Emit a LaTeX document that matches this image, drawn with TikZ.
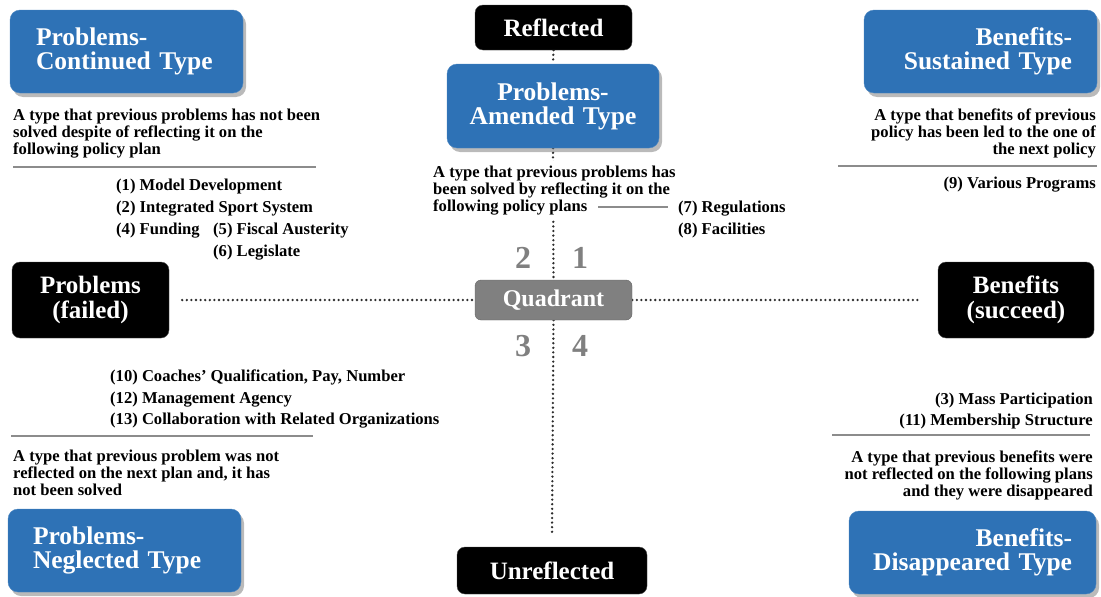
\documentclass[tikz,border=0pt]{standalone}
\usepackage{fontspec}
\setmainfont{Liberation Serif}
\usetikzlibrary{shadows,backgrounds}
\definecolor{boxblue}{RGB}{46,114,182}
\definecolor{qgray}{RGB}{128,128,128}
\definecolor{dotcol}{RGB}{45,45,45}
\definecolor{sepgray}{RGB}{140,140,140}
\tikzset{
  bluebox/.style={fill=boxblue, draw=boxblue!85!white, rounded corners=10pt, text=white,
    font=\bfseries\fontsize{25.5}{24}\selectfont, minimum height=83pt, inner ysep=0pt,
    drop shadow={shadow xshift=3pt, shadow yshift=-4pt, opacity=0.45, fill=black!60}},
  blackbox/.style={fill=black, draw=black!70, rounded corners=8pt, text=white,
    font=\bfseries\fontsize{25}{25}\selectfont, align=center, inner sep=0pt},
  quadbox/.style={fill=qgray, draw=qgray!80!black, rounded corners=6pt, text=white,
    font=\bfseries\fontsize{24}{24}\selectfont, inner sep=0pt, minimum width=157pt, minimum height=40pt},
  desc/.style={font=\bfseries\fontsize{16.6}{17}\selectfont, inner sep=0pt},
  listtxt/.style={font=\bfseries\fontsize{16.6}{22}\selectfont, inner sep=0pt},
  digit/.style={text=qgray, font=\bfseries\fontsize{32}{32}\selectfont, inner sep=0pt},
  sepline/.style={draw=sepgray, line width=1.4pt},
  dotline/.style={draw=dotcol, line width=2.6pt, line cap=round, dash pattern=on 0pt off 4.6pt}
}
\begin{document}
\begin{tikzpicture}[x=1pt,y=-1pt]
\useasboundingbox (0,0) rectangle (1101,597);

% blue type boxes
\node[bluebox, align=left, inner xsep=26pt, text width=181pt] (cont) at (126.5,51.5) {Problems-\\Continued Type};
\node[bluebox, align=center, inner xsep=8pt, text width=196pt, minimum height=84pt] (amend) at (553,106) {Problems-\\Amended Type};
\node[bluebox, align=right, inner xsep=25pt, text width=183pt] (sust) at (980.5,51.5) {Benefits-\\Sustained Type};
\node[bluebox, align=left, inner xsep=25pt, text width=183pt] (negl) at (124.5,550.5) {Problems-\\Neglected Type};
\node[bluebox, align=right, inner xsep=24pt, text width=199pt] (disap) at (972.5,552.5) {Benefits-\\Disappeared Type};

% black boxes
\node[blackbox, minimum width=157pt, minimum height=45pt] (refl) at (553.5,27.5) {Reflected};
\node[blackbox, minimum width=157pt, minimum height=76pt] (prob) at (90.5,300) {Problems\\(failed)};
\node[blackbox, minimum width=156pt, minimum height=76pt] (bene) at (1016,300) {Benefits\\(succeed)};
\node[blackbox, minimum width=190pt, minimum height=47pt] (unrefl) at (552,570.5) {Unreflected};

% quadrant
\node[quadbox] (quad) at (553.5,300) {Quadrant};
\node[digit] (d2) at (523,258) {2};
\node[digit] (d1) at (580,258) {1};
\node[digit] (d3) at (523,346) {3};
\node[digit] (d4) at (580,346) {4};

% top-left texts
\node[desc, anchor=north west, align=left] (tldesc) at (13,109)
  {A type that previous problems has not been\\solved despite of reflecting it on the\\following policy plan};
\draw[sepline] (13,167) -- (316,167);
\node[listtxt, anchor=north west, align=left] (tllist) at (116,179)
  {(1) Model Development\\(2) Integrated Sport System\\(4) Funding};
\node[listtxt, anchor=north west, align=left] (tllistb) at (213,223)
  {(5) Fiscal Austerity\\(6) Legislate};

% amended texts
\node[desc, anchor=north west, align=left, fill=white, inner ysep=5pt] (amdesc) at (433,161)
  {A type that previous problems has\\been solved by reflecting it on the\\following policy plans};
\draw[sepline] (598,207) -- (668,207);
\node[listtxt, anchor=north west, align=left] (amlist) at (678,201)
  {(7) Regulations\\(8) Facilities};

% top-right texts
\node[desc, anchor=north east, align=right] (trdesc) at (1096,109)
  {A type that benefits of previous\\policy has been led to the one of\\the next policy};
\draw[sepline] (838,166) -- (1097,166);
\node[listtxt, anchor=north east, align=right] (trlist) at (1096,177)
  {(9) Various Programs};

% bottom-left texts
\node[listtxt, anchor=north west, align=left, font=\bfseries\fontsize{16.6}{21.5}\selectfont] (bllist) at (110,370)
  {(10) Coaches' Qualification, Pay, Number\\(12) Management Agency\\(13) Collaboration with Related Organizations};
\draw[sepline] (11,436) -- (313,436);
\node[desc, anchor=north west, align=left] (bldesc) at (13,450)
  {A type that previous problem was not\\reflected on the next plan and, it has\\not been solved};

% bottom-right texts
\node[listtxt, anchor=north east, align=right, font=\bfseries\fontsize{16.6}{21}\selectfont] (brlist) at (1093,393)
  {(3) Mass Participation\\(11) Membership Structure};
\draw[sepline] (832,435) -- (1090,435);
\node[desc, anchor=north east, align=right] (brdesc) at (1093,451)
  {A type that previous benefits were\\not reflected on the following plans\\and they were disappeared};

% dotted axes
\begin{pgfonlayer}{background}
\draw[dotline] (refl.south) -- (amend.north);
\draw[dotline] (amend.south) -- (quad.north);
\draw[dotline] (quad.south) -- ([yshift=13pt]unrefl.north);
\draw[dotline] ([xshift=13pt]prob.east) -- (quad.west);
\draw[dotline] (quad.east) -- ([xshift=-20pt]bene.west);
\end{pgfonlayer}
\end{tikzpicture}
\end{document}
